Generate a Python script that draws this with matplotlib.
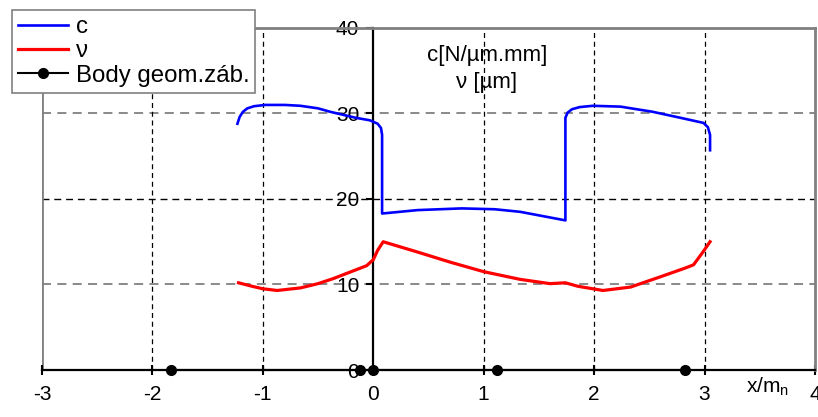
import matplotlib
matplotlib.use("Agg")
import matplotlib.pyplot as plt
from matplotlib.lines import Line2D

plt.rcParams['font.family'] = ['Liberation Sans', 'DejaVu Sans']
plt.rcParams['mathtext.fontset'] = 'custom'
plt.rcParams['mathtext.rm'] = 'Liberation Sans'
plt.rcParams['axes.unicode_minus'] = False

# tuhost c
c_x = [-1.23, -1.21, -1.18, -1.14, -1.08, -0.98, -0.8, -0.66, -0.5, -0.39, -0.16, -0.03, 0.04, 0.07, 0.08, 0.08,
       0.4, 0.8, 1.1, 1.33, 1.74, 1.74, 1.76, 1.8, 1.87, 1.99, 2.24, 2.53, 2.78, 2.99, 3.03, 3.05, 3.05]
c_y = [28.8, 29.6, 30.2, 30.6, 30.85, 31.0, 31.0, 30.9, 30.6, 30.2, 29.5, 29.2, 28.8, 28.3, 27.5, 18.3,
       18.7, 18.9, 18.8, 18.5, 17.5, 29.5, 30.1, 30.5, 30.75, 30.9, 30.8, 30.2, 29.5, 28.9, 28.4, 27.5, 25.7]

# deformace v
v_x = [-1.22, -1.1, -1.0, -0.87, -0.66, -0.5, -0.36, -0.12, -0.06, 0.0, 0.04, 0.09, 0.4, 0.7, 1.0,
       1.33, 1.6, 1.74, 1.85, 2.08, 2.33, 2.6, 2.82, 2.9, 2.98, 3.05]
v_y = [10.2, 9.8, 9.5, 9.3, 9.6, 10.1, 10.7, 11.9, 12.2, 12.9, 14.0, 15.0, 13.8, 12.6, 11.5,
       10.6, 10.1, 10.2, 9.8, 9.3, 9.7, 10.9, 11.9, 12.3, 13.7, 15.0]

# body geometrie zabu
b_x = [-1.83, -0.12, 0.0, 1.12, 2.82]
b_y = [0, 0, 0, 0, 0]

x_ticks = [-3, -2, -1, 0, 1, 2, 3, 4]
y_ticks = [0, 10, 20, 30, 40]

fig = plt.figure(figsize=(8.18, 4.17), dpi=100)
ax = fig.add_axes([0.0513, 0.1127, 0.945, 0.8202])
ax.set_xlim(-3, 4)
ax.set_ylim(0, 40)

# mrizka
ax.hlines([10, 30], -3, 4, colors='#808080', linestyles=(0, (5, 3.5)), lw=1.3, zorder=1)
ax.hlines([20], -3, 4, colors='black', linestyles=(0, (5, 3.5)), lw=1.0, zorder=1)
ax.vlines([-2, -1, 1, 2, 3], 0, 40, colors='black', linestyles=(0, (4, 3)), lw=0.9, zorder=1)
ax.axvline(-3, color='#808080', lw=2, zorder=1)

ax.plot(c_x, c_y, color='blue', lw=1.9, solid_joinstyle='round', zorder=3)
ax.plot(v_x, v_y, color='red', lw=2.3, solid_joinstyle='round', zorder=3)
ax.plot(b_x, b_y, color='black', lw=1.5, marker='o', ms=7, clip_on=False, zorder=4)

for s in ['top', 'right']:
    ax.spines[s].set_color('#808080')
    ax.spines[s].set_linewidth(2)
ax.spines['left'].set_position(('data', 0))
ax.spines['left'].set_linewidth(1.6)
ax.spines['bottom'].set_linewidth(1.6)

ax.set_xticks(x_ticks)
ax.set_yticks(y_ticks)
ax.tick_params(axis='x', direction='inout', length=7, width=1.5, pad=7, labelsize=15)
ax.tick_params(axis='y', direction='out', length=5, width=1.5, pad=5, labelsize=15)

ax.text(1.03, 36.8, 'c[N/µm.mm]', ha='center', va='center', fontsize=16)
ax.text(1.03, 33.6, 'ν [µm]', ha='center', va='center', fontsize=16)
ax.text(3.57, -2.0, r'x/m$_\mathrm{n}$', ha='center', va='center', fontsize=15, clip_on=False)

handles = [Line2D([], [], color='blue', lw=1.9),
           Line2D([], [], color='red', lw=2.3),
           Line2D([], [], color='black', lw=1.5, marker='o', ms=7)]
leg = fig.legend(handles, ['c', 'ν', 'Body geom.záb.'], loc='upper left',
                 bbox_to_anchor=(0.0147, 0.976), bbox_transform=fig.transFigure,
                 borderaxespad=0, fancybox=False, framealpha=1, edgecolor='#808080',
                 fontsize=17.3, handlelength=2.1, handletextpad=0.3, labelspacing=0.1,
                 borderpad=0.25)
leg.get_frame().set_linewidth(1.2)

fig.savefig('out.png', dpi=100)
